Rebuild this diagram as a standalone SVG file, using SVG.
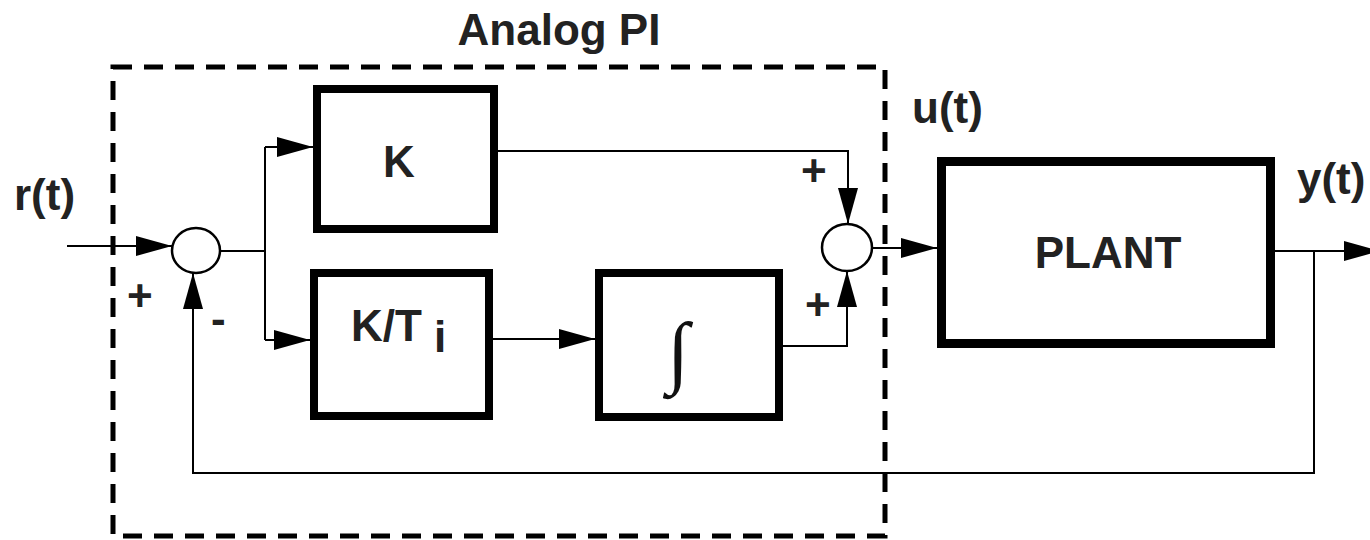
<svg xmlns="http://www.w3.org/2000/svg" width="1370" height="540" viewBox="0 0 1370 540">
<defs>
<marker id="arr" markerUnits="userSpaceOnUse" markerWidth="40" markerHeight="24" refX="36" refY="10" orient="auto">
<path d="M0,0 L36,10 L0,20 Z" fill="#000"/>
</marker>
<style>
.blk{fill:#fff;stroke:#000;stroke-width:8}
.sum{fill:#fff;stroke:#000;stroke-width:2.5}
.ln{fill:none;stroke:#000;stroke-width:2}
.ar{marker-end:url(#arr)}
.t{font-family:"Liberation Sans",Arial,sans-serif;font-weight:bold;fill:#222;font-size:44px}
.c{text-anchor:middle}
</style>
</defs>
<rect width="1370" height="540" fill="#fff"/>
<g id="pi-frame">
<rect x="113" y="67" width="772" height="469" fill="none" stroke="#000" stroke-width="5" stroke-dasharray="19 12"/>
<text class="t c" x="559" y="45" font-size="46">Analog PI</text>
</g>
<g id="connectors">
<path class="ln ar" d="M67,246 H172"/>
<path class="ln" d="M220,251 H265 M265,147 V340"/>
<path class="ln ar" d="M265,147 H313"/>
<path class="ln ar" d="M265,340 H310"/>
<path class="ln ar" d="M498,151 H848 V224"/>
<path class="ln ar" d="M493,339 H595"/>
<path class="ln ar" d="M783,346 H847 V271"/>
<path class="ln ar" d="M872,248 H937"/>
<path class="ln ar" d="M1275,251 H1380"/>
<path class="ln ar" d="M1314,251 V473 H193 V273"/>
</g>
<g id="sum1">
<ellipse class="sum" cx="196" cy="250.5" rx="24" ry="22.5"/>
<text class="t" x="127" y="311" font-size="40">+</text>
<text class="t" x="211" y="334" font-size="40">-</text>
</g>
<g id="sum2">
<ellipse class="sum" cx="847" cy="247.5" rx="25" ry="23.5"/>
<text class="t" x="801" y="186" font-size="40">+</text>
<text class="t" x="805" y="320" font-size="40">+</text>
</g>
<g id="k">
<rect class="blk" x="317" y="89" width="177" height="140"/>
<text class="t c" x="399" y="177">K</text>
</g>
<g id="kti">
<rect class="blk" x="314" y="273" width="175" height="143"/>
<text class="t" x="351" y="341">K/T <tspan dy="11">i</tspan></text>
</g>
<g id="integ">
<rect class="blk" x="599" y="273" width="180" height="144"/>
<text x="678" y="378" font-family="'Liberation Serif','DejaVu Serif',serif" font-size="80" text-anchor="middle" fill="#111">∫</text>
</g>
<g id="plant">
<rect x="941.5" y="161.5" width="329" height="182" fill="#fff" stroke="#000" stroke-width="9"/>
<text class="t c" x="1108" y="268" font-size="45">PLANT</text>
</g>
<g id="labels">
<text class="t" x="14" y="210">r(t)</text>
<text class="t" x="912" y="123">u(t)</text>
<text class="t" x="1297" y="194">y(t)</text>
</g>
</svg>
